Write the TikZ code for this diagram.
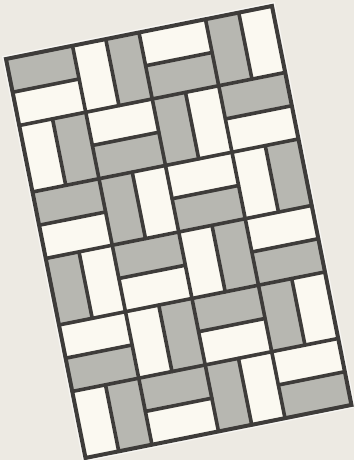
\documentclass[tikz,border=0pt]{standalone}
\definecolor{paper}{RGB}{237,234,227}
\definecolor{tilewhite}{RGB}{251,249,241}
\definecolor{tilegray}{RGB}{183,183,177}
\definecolor{grout}{RGB}{62,60,58}
\tikzset{
  whitebrick/.style={fill=tilewhite},
  graybrick/.style={fill=tilegray},
  groutline/.style={draw=grout,line width=3.6pt,line cap=round},
  frameline/.style={draw=grout,line width=4pt,line join=miter},
}
\begin{document}
\begin{tikzpicture}[x=1pt,y=1pt]
\fill[paper] (0,0) rectangle (354,460);
\useasboundingbox (0,0) rectangle (354,460);
\begin{scope}[shift={(6,401)}, rotate=11.27, x=67.8pt, y=-67.8pt]
  % light halo round the panel
  \fill[white!60!paper] (-0.05,-0.05) rectangle (4.05,6.05);
  \fill[whitebrick] (0,0) rectangle (4,6);
  % grey bricks: column/row/x0/y0/x1/y1 within each square
  \foreach \c/\r/\ax/\ay/\bx/\by in {
    0/0/0/0/1/0.5, 1/0/0.5/0/1/1, 2/0/0/0.5/1/1, 3/0/0/0/0.5/1,
    0/1/0.5/0/1/1, 1/1/0/0.5/1/1, 2/1/0/0/0.5/1, 3/1/0/0/1/0.5,
    0/2/0/0/1/0.5, 1/2/0/0/0.5/1, 2/2/0/0.5/1/1, 3/2/0.5/0/1/1,
    0/3/0/0/0.5/1, 1/3/0/0/1/0.5, 2/3/0.5/0/1/1, 3/3/0/0.5/1/1,
    0/4/0/0.5/1/1, 1/4/0.5/0/1/1, 2/4/0/0/1/0.5, 3/4/0/0/0.5/1,
    0/5/0.5/0/1/1, 1/5/0/0/1/0.5, 2/5/0/0/0.5/1, 3/5/0/0.5/1/1}
  { \fill[graybrick] (\c+\ax,\r+\ay) rectangle (\c+\bx,\r+\by); }
  % square boundaries
  \foreach \c in {1,2,3} { \draw[groutline] (\c,0) -- (\c,6); }
  \foreach \r in {1,...,5} { \draw[groutline] (0,\r) -- (4,\r); }
  % divider inside each square
  \foreach \c in {0,...,3} {
    \foreach \r in {0,...,5} {
      \pgfmathtruncatemacro{\parity}{mod(\c+\r,2)}
      \ifnum\parity=0
        \draw[groutline] (\c,\r+0.5) -- (\c+1,\r+0.5);
      \else
        \draw[groutline] (\c+0.5,\r) -- (\c+0.5,\r+1);
      \fi
    }
  }
  \draw[frameline] (0,0) rectangle (4,6);
\end{scope}
\end{tikzpicture}
\end{document}
